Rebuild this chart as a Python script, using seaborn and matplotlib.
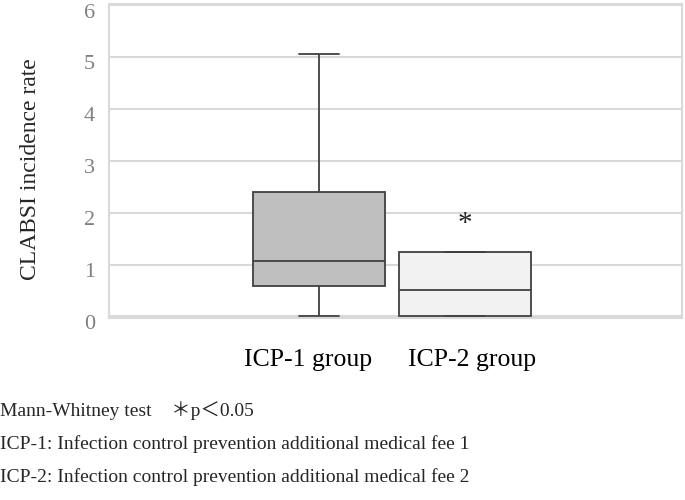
import numpy as np
import pandas as pd
import matplotlib
matplotlib.use("Agg")
import matplotlib.pyplot as plt
import matplotlib.transforms as mtransforms
import seaborn as sns

# Values (5-number summary per group)
icp1_values = [0.0, 0.58, 1.06, 2.40, 5.05]
icp2_values = [0.0, 0.0, 0.50, 1.25, 1.25]
group_labels = ["ICP-1 group", "ICP-2 group"]
box_colors = ["#bfbfbf", "#f2f2f2"]
star_y = 1.79

df = pd.DataFrame({
    "group": [group_labels[0]] * len(icp1_values) + [group_labels[1]] * len(icp2_values),
    "rate": icp1_values + icp2_values,
})

sns.set_theme(style="white")
plt.rcParams["font.family"] = ["Liberation Serif", "Noto Sans CJK JP"]

fig = plt.figure(figsize=(6.85, 5), dpi=100)
ax = fig.add_axes([0.159, 0.364, 0.837, 0.628])

ax.yaxis.grid(True, color="#d9d9d9", linewidth=1.5, zorder=0)
ax.set_axisbelow(True)

sns.boxplot(
    data=df, x="group", y="rate", hue="group", palette=box_colors,
    order=group_labels, width=0.91, whis=(0, 100), legend=False,
    linecolor="#404040", linewidth=1.3, capwidths=0.27, ax=ax,
)

ax.text(1, star_y, "*", ha="center", va="center", fontsize=21, color="#222222")

ax.set_xlim(-1.44, 2.49)
ax.set_ylim(-0.03, 6.02)
ax.set_yticks(range(0, 7))
ax.tick_params(axis="y", labelsize=16, labelcolor="#808080", pad=10, length=0)
ax.tick_params(axis="x", labelsize=18.5, labelcolor="black", pad=22, length=0)
ax.set_xlabel("")
ax.set_ylabel("CLABSI incidence rate", fontsize=17)
ax.yaxis.set_label_coords(-0.118, 0.475)

# nudge tick labels like the original layout
down = mtransforms.ScaledTranslation(0, -4 / 72, fig.dpi_scale_trans)
for lbl in ax.get_yticklabels():
    lbl.set_transform(lbl.get_transform() + down)
x_shift = [-11, 7]
for lbl, dx in zip(ax.get_xticklabels(), x_shift):
    lbl.set_transform(lbl.get_transform() + mtransforms.ScaledTranslation(dx / 100, 0, fig.dpi_scale_trans))

for s in ax.spines.values():
    s.set_color("#d9d9d9")
    s.set_linewidth(1.5)

fig.text(0.0, 0.178, "Mann-Whitney test    ＊p＜0.05", fontsize=14, va="center")
fig.text(0.0, 0.112, "ICP-1: Infection control prevention additional medical fee 1", fontsize=14, va="center")
fig.text(0.0, 0.046, "ICP-2: Infection control prevention additional medical fee 2", fontsize=14, va="center")

fig.savefig("out.png", dpi=100)
